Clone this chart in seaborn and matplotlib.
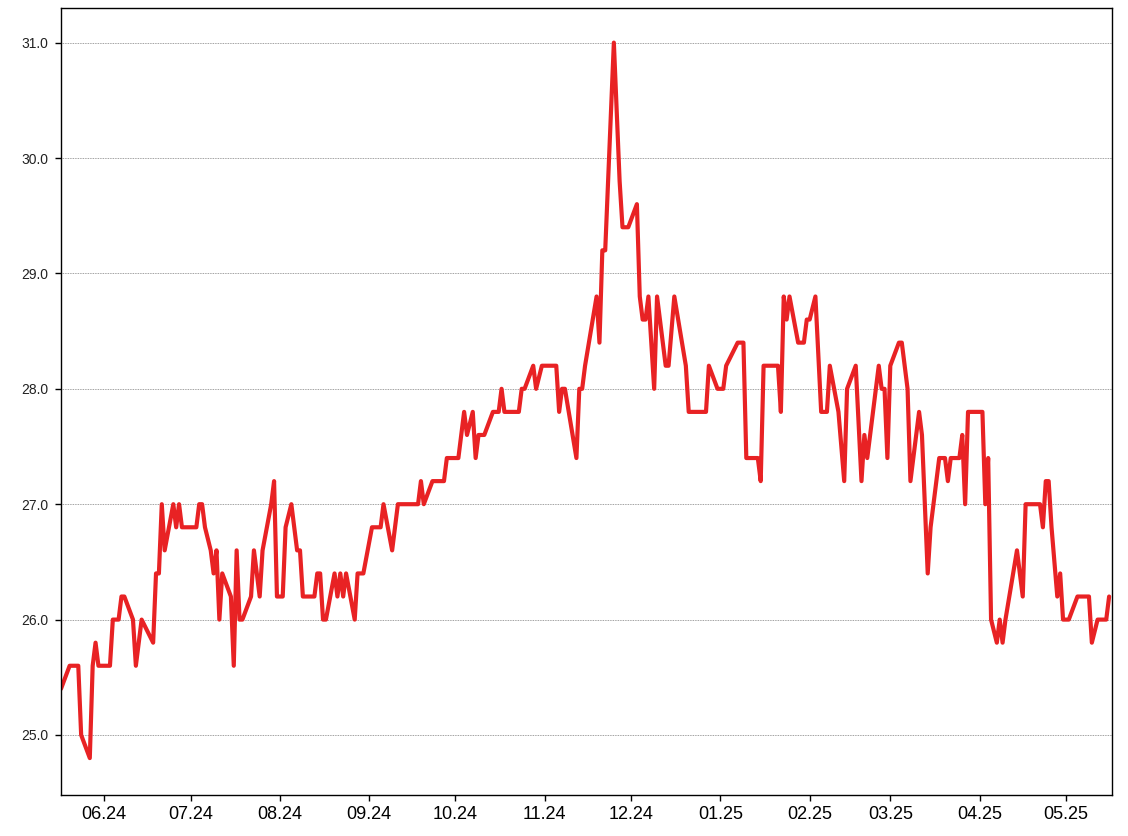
import matplotlib
matplotlib.use("Agg")
import matplotlib.pyplot as plt
import matplotlib.dates as mdates
import matplotlib.ticker as mticker
import pandas as pd
import seaborn as sns

dates = [
    "2024-05-17", "2024-05-20", "2024-05-23", "2024-05-24", "2024-05-27", "2024-05-28", "2024-05-29", "2024-05-30",
    "2024-06-03", "2024-06-04", "2024-06-06", "2024-06-07", "2024-06-08", "2024-06-11", "2024-06-12", "2024-06-14",
    "2024-06-18", "2024-06-19", "2024-06-20", "2024-06-21", "2024-06-22", "2024-06-25", "2024-06-26", "2024-06-27",
    "2024-06-28", "2024-07-03", "2024-07-04", "2024-07-05", "2024-07-06", "2024-07-08", "2024-07-09", "2024-07-10",
    "2024-07-11", "2024-07-12", "2024-07-15", "2024-07-16", "2024-07-17", "2024-07-18", "2024-07-19", "2024-07-22",
    "2024-07-23", "2024-07-25", "2024-07-26", "2024-07-29", "2024-07-30", "2024-07-31", "2024-08-02", "2024-08-03",
    "2024-08-05", "2024-08-07", "2024-08-08", "2024-08-09", "2024-08-13", "2024-08-14", "2024-08-15", "2024-08-16",
    "2024-08-17", "2024-08-20", "2024-08-21", "2024-08-22", "2024-08-23", "2024-08-24", "2024-08-27", "2024-08-28",
    "2024-08-30", "2024-09-02", "2024-09-05", "2024-09-06", "2024-09-09", "2024-09-11", "2024-09-18", "2024-09-19",
    "2024-09-20", "2024-09-23", "2024-09-27", "2024-09-28", "2024-10-02", "2024-10-04", "2024-10-05", "2024-10-07",
    "2024-10-08", "2024-10-09", "2024-10-11", "2024-10-14", "2024-10-16", "2024-10-17", "2024-10-18", "2024-10-23",
    "2024-10-24", "2024-10-25", "2024-10-28", "2024-10-29", "2024-10-31", "2024-11-05", "2024-11-06", "2024-11-07",
    "2024-11-08", "2024-11-12", "2024-11-13", "2024-11-14", "2024-11-15", "2024-11-19", "2024-11-20", "2024-11-21",
    "2024-11-22", "2024-11-24", "2024-11-25", "2024-11-27", "2024-11-28", "2024-11-30", "2024-12-03", "2024-12-04",
    "2024-12-05", "2024-12-06", "2024-12-07", "2024-12-09", "2024-12-10", "2024-12-13", "2024-12-14", "2024-12-16",
    "2024-12-20", "2024-12-21", "2024-12-27", "2024-12-28", "2024-12-31", "2025-01-02", "2025-01-03", "2025-01-07",
    "2025-01-09", "2025-01-10", "2025-01-14", "2025-01-15", "2025-01-16", "2025-01-21", "2025-01-22", "2025-01-23",
    "2025-01-24", "2025-01-25", "2025-01-28", "2025-01-30", "2025-01-31", "2025-02-01", "2025-02-03", "2025-02-05",
    "2025-02-07", "2025-02-08", "2025-02-11", "2025-02-13", "2025-02-14", "2025-02-17", "2025-02-19", "2025-02-20",
    "2025-02-21", "2025-02-25", "2025-02-26", "2025-02-27", "2025-02-28", "2025-03-01", "2025-03-04", "2025-03-05",
    "2025-03-07", "2025-03-08", "2025-03-11", "2025-03-12", "2025-03-14", "2025-03-15", "2025-03-18", "2025-03-20",
    "2025-03-21", "2025-03-22", "2025-03-25", "2025-03-26", "2025-03-27", "2025-03-28", "2025-04-02", "2025-04-03",
    "2025-04-04", "2025-04-05", "2025-04-07", "2025-04-08", "2025-04-09", "2025-04-10", "2025-04-14", "2025-04-16",
    "2025-04-17", "2025-04-22", "2025-04-23", "2025-04-24", "2025-04-25", "2025-04-26", "2025-04-28", "2025-04-29",
    "2025-04-30", "2025-05-02", "2025-05-05", "2025-05-09", "2025-05-10", "2025-05-12", "2025-05-15", "2025-05-16",
]

values = [
    25.4, 25.6, 25.6, 25.0, 24.8, 25.6, 25.8, 25.6,
    25.6, 26.0, 26.0, 26.2, 26.2, 26.0, 25.6, 26.0,
    25.8, 26.4, 26.4, 27.0, 26.6, 27.0, 26.8, 27.0,
    26.8, 26.8, 27.0, 27.0, 26.8, 26.6, 26.4, 26.6,
    26.0, 26.4, 26.2, 25.6, 26.6, 26.0, 26.0, 26.2,
    26.6, 26.2, 26.6, 27.0, 27.2, 26.2, 26.2, 26.8,
    27.0, 26.6, 26.6, 26.2, 26.2, 26.4, 26.4, 26.0,
    26.0, 26.4, 26.2, 26.4, 26.2, 26.4, 26.0, 26.4,
    26.4, 26.8, 26.8, 27.0, 26.6, 27.0, 27.0, 27.2,
    27.0, 27.2, 27.2, 27.4, 27.4, 27.8, 27.6, 27.8,
    27.4, 27.6, 27.6, 27.8, 27.8, 28.0, 27.8, 27.8,
    28.0, 28.0, 28.2, 28.0, 28.2, 28.2, 27.8, 28.0,
    28.0, 27.4, 28.0, 28.0, 28.2, 28.8, 28.4, 29.2,
    29.2, 30.4, 31.0, 29.8, 29.4, 29.4, 29.6, 28.8,
    28.6, 28.6, 28.8, 28.0, 28.8, 28.2, 28.2, 28.8,
    28.2, 27.8, 27.8, 28.2, 28.0, 28.0, 28.2, 28.4,
    28.4, 27.4, 27.4, 27.2, 28.2, 28.2, 27.8, 28.8,
    28.6, 28.8, 28.4, 28.4, 28.6, 28.6, 28.8, 27.8,
    27.8, 28.2, 27.8, 27.2, 28.0, 28.2, 27.2, 27.6,
    27.4, 28.2, 28.0, 28.0, 27.4, 28.2, 28.4, 28.4,
    28.0, 27.2, 27.8, 27.6, 26.4, 26.8, 27.4, 27.4,
    27.2, 27.4, 27.4, 27.6, 27.0, 27.8, 27.8, 27.0,
    27.4, 26.0, 25.8, 26.0, 25.8, 26.0, 26.6, 26.2,
    27.0, 27.0, 26.8, 27.2, 27.2, 26.8, 26.2, 26.4,
    26.0, 26.0, 26.2, 26.2, 25.8, 26.0, 26.0, 26.2,
]

y_ticks = [25.0, 26.0, 27.0, 28.0, 29.0, 30.0, 31.0]
x_start, x_end = "2024-05-17", "2025-05-17"

df = pd.DataFrame({"date": pd.to_datetime(dates), "value": values})

sns.set_theme(style="white")
plt.rcParams["font.family"] = ["Liberation Sans", "DejaVu Sans"]

fig = plt.figure(figsize=(11.28, 8.36), dpi=100)
ax = fig.add_axes([61 / 1128, 1 - 795 / 836, (1112 - 61) / 1128, (795 - 8) / 836])

sns.lineplot(data=df, x="date", y="value", ax=ax, color="#e82224", linewidth=3.0)

ax.set_xlim(pd.Timestamp(x_start), pd.Timestamp(x_end))
ax.set_ylim(24.48, 31.30)
ax.set_yticks(y_ticks)
ax.yaxis.set_major_formatter(mticker.FormatStrFormatter("%.1f"))
ax.xaxis.set_major_locator(mdates.MonthLocator())
ax.xaxis.set_major_formatter(mdates.DateFormatter("%m.%y"))

ax.set_xlabel("")
ax.set_ylabel("")
ax.grid(axis="y", color="#808080", linestyle=(0, (1, 1)), linewidth=0.6)
ax.grid(axis="x", visible=False)

for sp in ax.spines.values():
    sp.set_visible(True)
    sp.set_color("black")
    sp.set_linewidth(1.0)

ax.tick_params(axis="both", direction="out", length=4, width=1, color="black", bottom=True, left=True)
ax.tick_params(axis="y", labelsize=10, labelcolor="#222222", pad=5)
ax.tick_params(axis="x", labelsize=13, labelcolor="black", pad=4)

fig.savefig("out.png", dpi=100)
